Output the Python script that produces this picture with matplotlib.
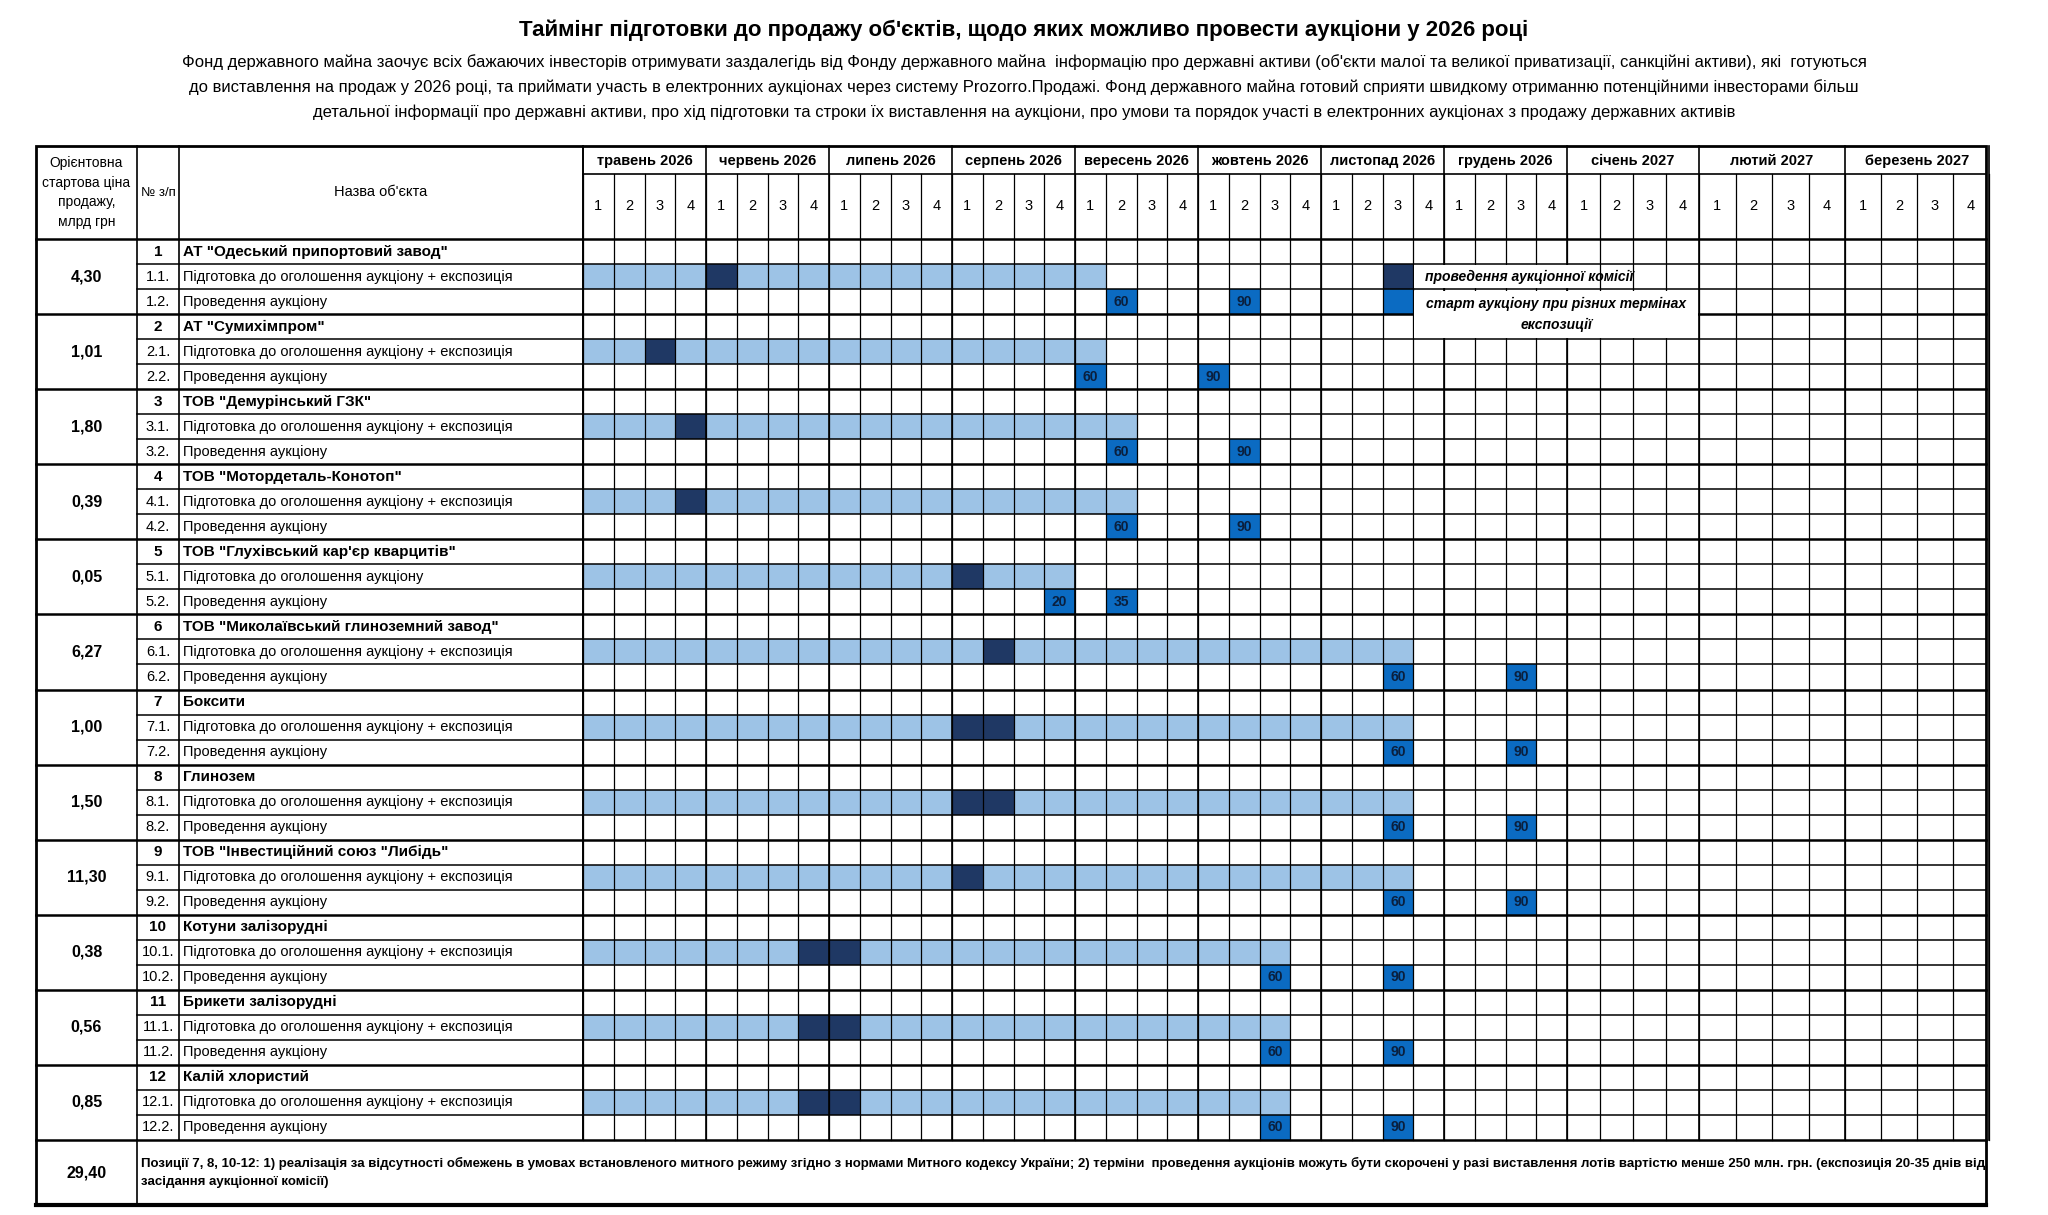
import numpy as np
import matplotlib.pyplot as plt
from matplotlib.patches import Rectangle

plt.rcParams['font.family'] = ['Liberation Sans Narrow', 'Liberation Sans', 'DejaVu Sans']

title = "Таймінг підготовки до продажу об'єктів, щодо яких можливо провести аукціони у 2026 році"
subtitle = ["Фонд державного майна заочує всіх бажаючих інвесторів отримувати заздалегідь від Фонду державного майна  інформацію про державні активи (об'єкти малої та великої приватизації, санкційні активи), які  готуються",
            "до виставлення на продаж у 2026 році, та приймати участь в електронних аукціонах через систему Prozorro.Продажі. Фонд державного майна готовий сприяти швидкому отриманню потенційними інвесторами більш",
            "детальної інформації про державні активи, про хід підготовки та строки їх виставлення на аукціони, про умови та порядок участі в електронних аукціонах з продажу державних активів"]

months = ["травень 2026", "червень 2026", "липень 2026", "серпень 2026", "вересень 2026", "жовтень 2026",
          "листопад 2026", "грудень 2026", "січень 2027", "лютий 2027", "березень 2027"]

prices = ["4,30", "1,01", "1,80", "0,39", "0,05", "6,27", "1,00", "1,50", "11,30", "0,38", "0,56", "0,85"]
names = ['АТ "Одеський припортовий завод"', 'АТ "Сумихімпром"', 'ТОВ "Демурінський ГЗК"',
         'ТОВ "Мотордеталь-Конотоп"', 'ТОВ "Глухівський кар\'єр кварцитів"',
         'ТОВ "Миколаївський глиноземний завод"', 'Боксити', 'Глинозем',
         'ТОВ "Інвестиційний союз "Либідь"', 'Котуни залізорудні', 'Брикети залізорудні', 'Калій хлористий']
prep_text = ["Підготовка до оголошення аукціону + експозиція"] * 12
prep_text[4] = "Підготовка до оголошення аукціону"
auction_text = "Проведення аукціону"

prep_start = [0] * 12
prep_end = [16, 16, 17, 17, 15, 26, 26, 26, 26, 22, 22, 22]
dark_weeks = [[4], [2], [3], [3], [12], [13], [12, 13], [12, 13], [12], [7, 8], [7, 8], [7, 8]]
auc1_week = [17, 16, 17, 17, 15, 26, 26, 26, 26, 22, 22, 22]
auc1_label = ["60", "60", "60", "60", "20", "60", "60", "60", "60", "60", "60", "60"]
auc2_week = [21, 20, 21, 21, 17, 30, 30, 30, 30, 26, 26, 26]
auc2_label = ["90", "90", "90", "90", "35", "90", "90", "90", "90", "90", "90", "90"]

total = "29,40"
note = ("Позиції 7, 8, 10-12: 1) реалізація за відсутності обмежень в умовах встановленого митного режиму згідно з нормами Митного кодексу України; 2) терміни  проведення аукціонів можуть бути скорочені у разі виставлення лотів вартістю менше 250 млн. грн. (експозиція 20-35 днів від\n"
        "засідання аукціонної комісії)")
legend1 = "проведення аукціонної комісії"
legend2 = "старт аукціону при різних термінах\nекспозиції"

LIGHT, DARK, MID = "#9DC3E6", "#1F3864", "#0B6BC2"

# layout (pixel space)
X0, XP, XN, XG, XE = 36, 137, 179, 583, 1986
month_w = [123] * 8 + [132, 146, 144]
week_x = [XG]
for w in month_w:
    for i in range(4):
        week_x.append(week_x[-1] + w / 4)
week_x = np.array(week_x)
YT, YM, YH, YF, YB = 146, 174, 239, 1140, 1205
nrows = 36
rh = (YF - YH) / nrows
row_y = YH + rh * np.arange(nrows + 1)

fig = plt.figure(figsize=(20.48, 12.15), dpi=100)
ax = fig.add_axes([0, 0, 1, 1])
ax.set_xlim(0, 2048)
ax.set_ylim(1215, 0)
ax.axis('off')

ax.text(1024, 30, title, ha='center', va='center', fontsize=16, fontweight='bold')
for i, s in enumerate(subtitle):
    ax.text(1024, 62 + 25 * i, s, ha='center', va='center', fontsize=12)


def cell(w, r, color):
    ax.add_patch(Rectangle((week_x[w], row_y[r]), week_x[w + 1] - week_x[w], rh, color=color, lw=0, zorder=1))


for g in range(12):
    r = 3 * g
    for w in range(prep_start[g], prep_end[g] + 1):
        cell(w, r + 1, DARK if w in dark_weeks[g] else LIGHT)
    for w, lab in ((auc1_week[g], auc1_label[g]), (auc2_week[g], auc2_label[g])):
        cell(w, r + 2, MID)
        ax.text((week_x[w] + week_x[w + 1]) / 2, row_y[r + 2] + rh / 2, lab, ha='center', va='center',
                fontsize=10, fontweight='bold', color='#0A1F3D', zorder=3)

# grid lines
for x in week_x:
    ax.plot([x, x], [YM, YF], color='black', lw=0.9, zorder=2)
for m in range(12):
    x = week_x[4 * m]
    ax.plot([x, x], [YT, YF], color='black', lw=1.2, zorder=2)
ax.plot([XG, XE], [YM, YM], color='black', lw=1.2, zorder=2)
for r in range(nrows + 1):
    thick = r % 3 == 0
    x_start = X0 if thick else XP
    ax.plot([x_start, XE], [row_y[r], row_y[r]], color='black', lw=1.8 if thick else 1.1, zorder=2)
for x in (XP, XN, XG):
    ax.plot([x, x], [YT, YF], color='black', lw=1.2, zorder=2)
ax.add_patch(Rectangle((X0, YT), XE - X0, YB - YT, fill=False, lw=2, zorder=4))
ax.plot([XP, XP], [YF, YB], color='black', lw=1.2)
ax.plot([X0, XE], [YB, YB], color='black', lw=3)

# legend
cell(26, 1, DARK)
cell(26, 2, MID)
ax.add_patch(Rectangle((week_x[27] + 1, row_y[1] + 1), week_x[33] - week_x[27] - 2, rh - 2, color='white', lw=0, zorder=2.5))
ax.add_patch(Rectangle((week_x[27] + 1, row_y[2] + 1.5), week_x[36] - week_x[27] - 2, 2 * rh - 3, color='white', lw=0, zorder=2.5))
ax.text(week_x[27] + 12, row_y[1] + rh / 2, legend1, ha='left', va='center', fontsize=10,
        fontweight='bold', style='italic', zorder=3)
ax.text((week_x[27] + week_x[36]) / 2, row_y[2] + rh, legend2, ha='center', va='center', fontsize=10,
        fontweight='bold', style='italic', zorder=3, linespacing=1.6)

# header
ax.text((X0 + XP) / 2, (YT + YH) / 2, "Орієнтовна\nстартова ціна\nпродажу,\nмлрд грн", ha='center', va='center',
        fontsize=10, linespacing=1.5)
ax.text((XP + XN) / 2, (YT + YH) / 2, "№ з/п", ha='center', va='center', fontsize=9.5)
ax.text((XN + XG) / 2, (YT + YH) / 2, "Назва об'єкта", ha='center', va='center', fontsize=10.5)
for m, name in enumerate(months):
    ax.text((week_x[4 * m] + week_x[4 * m + 4]) / 2, (YT + YM) / 2 + 1, name, ha='center', va='center',
            fontsize=10.5, fontweight='bold')
    for k in range(4):
        ax.text((week_x[4 * m + k] + week_x[4 * m + k + 1]) / 2, (YM + YH) / 2, str(k + 1), ha='center',
                va='center', fontsize=10.5)

for g in range(12):
    r = 3 * g
    ax.text((X0 + XP) / 2, row_y[r] + 1.5 * rh, prices[g], ha='center', va='center', fontsize=11.5, fontweight='bold')
    ax.text((XP + XN) / 2, row_y[r] + rh / 2, str(g + 1), ha='center', va='center', fontsize=11, fontweight='bold')
    ax.text(XN + 4, row_y[r] + rh / 2, names[g], ha='left', va='center', fontsize=11, fontweight='bold')
    for k, txt in ((1, prep_text[g]), (2, auction_text)):
        ax.text((XP + XN) / 2, row_y[r + k] + rh / 2, f"{g + 1}.{k}.", ha='center', va='center', fontsize=10.5)
        ax.text(XN + 4, row_y[r + k] + rh / 2, txt, ha='left', va='center', fontsize=10.5)

ax.text((X0 + XP) / 2, (YF + YB) / 2, total, ha='center', va='center', fontsize=11.5, fontweight='bold')
ax.text(XP + 4, (YF + YB) / 2, note, ha='left', va='center', fontsize=9.5, fontweight='bold', linespacing=1.6)

fig.savefig("out.png", dpi=100)
